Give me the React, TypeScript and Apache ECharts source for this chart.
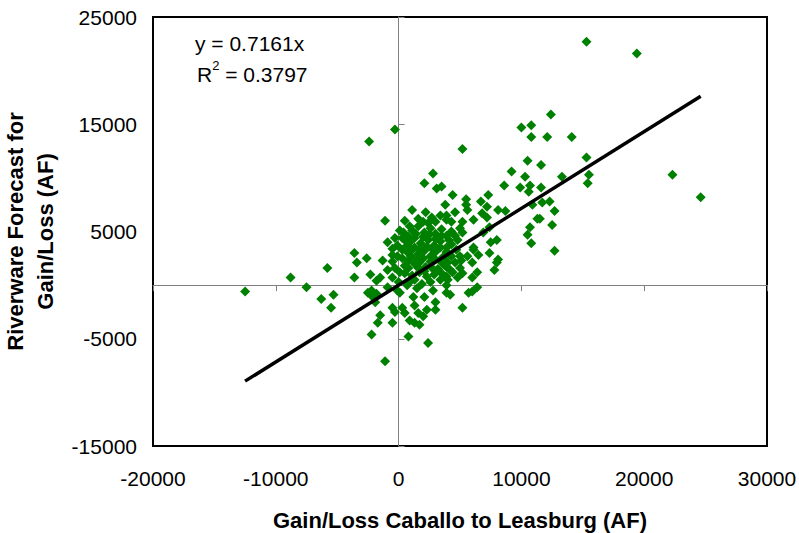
import React, { useEffect, useRef } from "react";
import * as echarts from "echarts";

// Gain/Loss Caballo to Leasburg (AF) — x values
const gainLossCaballo: number[] = [
  15300, 19400, 12400, 10000, 10800, 10800, 12100, 14100, 15300, 10500,
  11600, 9200, 10300, 13300, 15500, 15400, 22300, 24600, 11600, 11700,
  12300, 12700, 11500, 12500, 12700, 5200, -300, -2400, 2800, 2100,
  3100, 3500, 4400, 5500, 5500, 6700, 7300, 8600, 9900, 10700,
  10600, 10900, 7200, 5600, 8100, 8700, 6800, 5200, 6100, 7200,
  11300, 10700, 7400, 6900, 5200, 3900, 10500, 8000, 10800, 6100,
  7400, 5000, 5600, 6500, 8100, 3600, 3900, 5100, 6000, 8000,
  7800, 6400, 5200, 4800, 6000, 4000, 6400, 6000, 5700, 3900,
  4200, 5200, 2200, 2000, 2700, 3400, 3900, 2400, 500, -1100,
  300, 900, -100, 500, -500, 300, -3600, -2600, -500, -3400,
  -1300, -500, 300, -3600, -2300, -1500, -1800, 800, 100, -500,
  -900, -2200, -2500, -1800, -2100, -100, 100, 700, 1500, 1200,
  2100, 2800, 3000, 1300, 2300, 3000, -1900, -500, 300, -300,
  500, -1500, 1600, 2000, 900, 1300, 1700, -1700, -500, -2200,
  800, 2400, -1100, -12500, -8800, -7500, -5800, -6300, -5300, -5500,
  7500, 6100,
  1100, 1600, 2100, 2600, 3000, 3500, 3900, 4300, 1300, 1800,
  2400, 2900, 3400, 3900, 4300, 4800, 1100, 1600, 2100, 2600,
  3000, 3600, 4100, 4600, 800, 1300, 1700, 2200, 2700, 3200,
  3700, 4200, 1700, 2300, 2900, 3400, 1300, 1900, 2600, 3900,
  4700, 5000, 3000, 1600, 1100, 3800, 4600, 5000, 4300, 900,
  100, -300, -900, 500, -300, -900, 0, 900, 700, -100,
  400, 800, 1400, 2000, 2500, 3000, 3500, 4100, 4600, 700,
  1300, 1700, 2300, 2800, 3400, 3900, 4300, 1000, 1500, 2000,
  2600, 3000, 3500, 4000, 500, 1100, 1600, 2100, 2800, 3500,
  3900, 4400,
];

// Riverware Forecast for Gain/Loss (AF) — y values
const riverwareForecast: number[] = [
  22700, 21600, 15900, 14700, 14900, 13800, 13800, 13800, 11900, 11600,
  11200, 10600, 10100, 10100, 10300, 9500, 10300, 8200, 9100, 7700,
  7800, 6900, 6200, 5600, 3200, 12700, 14500, 13400, 10400, 9500,
  9000, 9200, 8400, 8000, 7500, 7800, 8400, 9300, 9100, 9300,
  8700, 7500, 7300, 7000, 7000, 6900, 6700, 5900, 6100, 6300,
  6200, 5400, 5400, 4900, 4900, 6100, 4700, 4200, 3900, 3500,
  3000, 2700, 2700, 2800, 2400, 2600, 1700, 2300, 2100, 2100,
  1400, 1200, 1100, 700, 700, 500, -200, -600, -700, -700,
  -900, -2100, 6800, 5900, 6300, 6500, 6500, 5800, 6000, 6000,
  4400, 4000, 3700, 4200, 3400, 3300, 3000, 2500, 2800, 2100,
  2300, 2200, 2500, 700, 1000, 700, 400, 1600, 1200, 700,
  -200, -500, -700, -800, -1100, -500, -700, 0, -300, -1100,
  -1100, -500, -1600, -1900, -2300, -2300, -1600, -2100, -2100, -2500,
  -2600, -2800, -2600, -2900, -3300, -3500, -3700, -3500, -3500, -4600,
  -4800, -5400, -7100, -600, 700, -200, 1600, -1300, -900, -2100,
  4000, 3300,
  5100, 5500, 4900, 5300, 4800, 5200, 4600, 5000, 4400, 3900,
  4200, 3700, 4100, 3500, 3800, 4200, 3300, 2900, 3200, 2700,
  3100, 2500, 2900, 2100, 2300, 2000, 2100, 1700, 2100, 1500,
  1900, 1400, 1200, 800, 1000, 500, 500, 100, 300, 0,
  3300, 1600, 5900, 6200, 7000, 7500, 6800, 5300, 5900, 5500,
  5100, 4400, 4000, 1800, 1600, 1400, 300, 300, 3100, 2700,
  4900, 4500, 4800, 4500, 4700, 4300, 4600, 4200, 4600, 3700,
  3500, 3400, 3600, 3300, 3500, 3100, 2700, 2700, 2400, 2500,
  2200, 2400, 2100, 2100, 1100, 900, 1600, 1300, 1500, 1100,
  800, 1200,
];

const trendSlope = 0.7161;
const rSquared = 0.3797;
const xAxisRange = [-20000, 30000];
const yAxisRange = [-15000, 25000];
const tickStep = 10000;

const FONT = '"Liberation Sans", Arial, sans-serif';

export default function App() {
  const ref = useRef<HTMLDivElement>(null);

  useEffect(() => {
    if (!ref.current) return;
    const chart = echarts.init(ref.current, undefined, { renderer: "svg" });

    const points = gainLossCaballo.map((x, i) => [x, riverwareForecast[i]]);
    const minX = Math.min(...gainLossCaballo);
    const maxX = Math.max(...gainLossCaballo);
    const trend = [
      [minX, trendSlope * minX],
      [maxX, trendSlope * maxX],
    ];

    const labelStyle = {
      color: "#000",
      fontSize: 21,
      fontFamily: FONT,
      formatter: (v: number) => String(v),
    };

    chart.setOption({
      animation: false,
      backgroundColor: "#fff",
      grid: {
        left: 153,
        right: 32,
        top: 17,
        bottom: 87,
        show: true,
        borderColor: "#000",
        borderWidth: 2,
        backgroundColor: "transparent",
        containLabel: false,
        outerBoundsMode: "none",
      },
      xAxis: [
        {
          type: "value",
          min: xAxisRange[0],
          max: xAxisRange[1],
          interval: tickStep,
          position: "bottom",
          axisLine: { show: false, onZero: false },
          axisTick: { show: false },
          splitLine: { show: false },
          axisLabel: { ...labelStyle, margin: 22, showMinLabel: true, showMaxLabel: true },
          name: "Gain/Loss Caballo to Leasburg (AF)",
          nameLocation: "middle",
          nameGap: 63,
          nameTextStyle: { color: "#000", fontSize: 22, fontWeight: "bold", fontFamily: FONT },
        },
        {
          type: "value",
          min: xAxisRange[0],
          max: xAxisRange[1],
          interval: tickStep,
          position: "bottom",
          axisLine: { show: true, onZero: true, onZeroAxisIndex: 0, lineStyle: { color: "#808080", width: 1 } },
          axisTick: { show: true, inside: false, length: 6, lineStyle: { color: "#808080", width: 1 } },
          splitLine: { show: false },
          axisLabel: { show: false },
        },
      ],
      yAxis: [
        {
          type: "value",
          min: yAxisRange[0],
          max: yAxisRange[1],
          interval: tickStep,
          position: "left",
          axisLine: { show: false, onZero: false },
          axisTick: { show: false },
          splitLine: { show: false },
          axisLabel: { ...labelStyle, margin: 16, showMinLabel: true, showMaxLabel: true },
          name: "Riverware Forecast for\nGain/Loss (AF)",
          nameLocation: "middle",
          nameGap: 78,
          nameTextStyle: { color: "#000", fontSize: 22, fontWeight: "bold", fontFamily: FONT, lineHeight: 30 },
        },
        {
          type: "value",
          min: yAxisRange[0],
          max: yAxisRange[1],
          interval: tickStep,
          position: "left",
          axisLine: { show: true, onZero: true, onZeroAxisIndex: 0, lineStyle: { color: "#808080", width: 1 } },
          axisTick: { show: true, inside: true, length: 6, lineStyle: { color: "#808080", width: 1 } },
          splitLine: { show: false },
          axisLabel: { show: false },
        },
      ],
      graphic: [
        {
          type: "text",
          left: 195,
          top: 33,
          style: { text: `y = ${trendSlope}x`, fill: "#000", font: `21px ${FONT}` },
        },
        {
          type: "text",
          left: 197,
          top: 59,
          style: {
            text: `{a|R}{s|2}{a| = ${rSquared}}`,
            fill: "#000",
            rich: {
              a: { fontSize: 21, fontFamily: FONT, lineHeight: 26, verticalAlign: "bottom", fill: "#000" },
              s: { fontSize: 13, fontFamily: FONT, lineHeight: 26, verticalAlign: "top", fill: "#000" },
            },
          },
        },
      ],
      series: [
        {
          type: "scatter",
          xAxisIndex: 0,
          yAxisIndex: 0,
          data: points,
          symbol: "diamond",
          symbolSize: 10,
          itemStyle: { color: "#008000", opacity: 1 },
          z: 3,
        },
        {
          type: "line",
          xAxisIndex: 0,
          yAxisIndex: 0,
          data: trend,
          showSymbol: false,
          symbol: "none",
          lineStyle: { color: "#000", width: 3.5 },
          z: 4,
        },
      ],
    });

    return () => chart.dispose();
  }, []);

  return (
    <div
      ref={ref}
      style={{ position: "fixed", left: 0, top: 0, width: 799, height: 533 }}
    />
  );
}
